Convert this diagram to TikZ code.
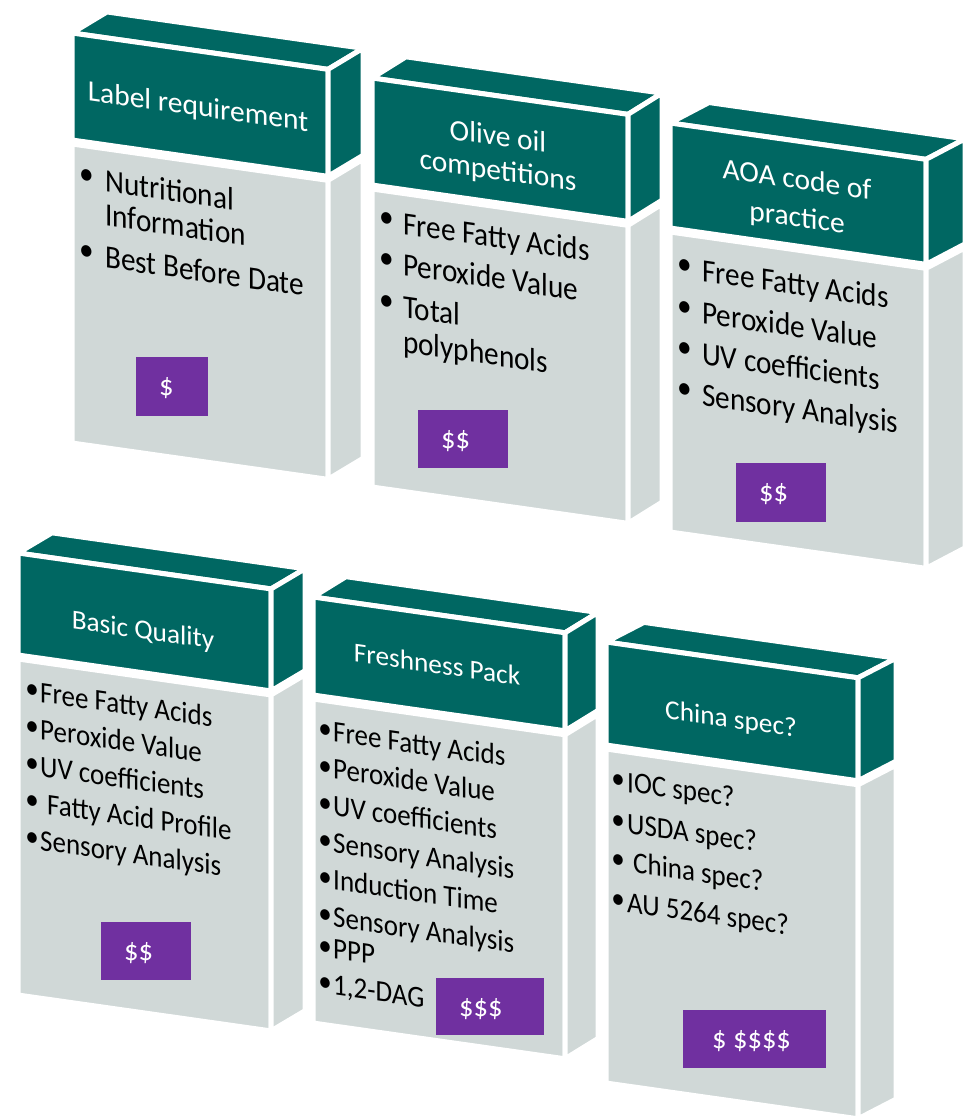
\documentclass[tikz,border=0pt]{standalone}
\usepackage{fontspec}
\setmainfont{Carlito}
\newfontfamily\listfont{Carlito}[FakeStretch=0.9]
\usetikzlibrary{calc}

\definecolor{hdteal}{RGB}{0,103,98}
\definecolor{bodygray}{RGB}{208,216,215}
\definecolor{pricepurple}{RGB}{112,48,160}

\tikzset{
  face/.style={draw=white, line width=5pt, line join=round},
  hdface/.style={face, fill=hdteal},
  bdface/.style={face, fill=bodygray},
  % upper and lower rows use slightly different type sizes
  rowtop/.style={hdf/.style={font=\fontsize{29.5}{35}\selectfont},
                 bdf/.style={font=\listfont\fontsize{32.5}{38}\selectfont},
                 bulraise/.initial=5},
  rowlow/.style={hdf/.style={font=\fontsize{27.3}{33}\selectfont},
                 bdf/.style={font=\listfont\fontsize{30}{36}\selectfont},
                 bulraise/.initial=2.5},
  hd/.style={hdf, text=white, anchor=base, inner sep=0pt, transform shape},
  itm/.style={bdf, text=black, anchor=base west, inner sep=0pt, transform shape},
  dot/.style={bdf, text=black, anchor=base, inner sep=0pt, transform shape},
  pricebox/.style={fill=pricepurple, draw=none, inner sep=0pt, anchor=north west},
  pricetxt/.style={text=white, anchor=base west, inner sep=0pt,
                   font=\fontsize{28.5}{34}\selectfont},
}

% faces of one box: #1 front width, #2 front height, #3 header height,
% #4/#5 depth offset of the top and side faces
\newcommand\oilbox[5]{%
  \path[hdface] (0,0) -- (#4,#5) -- ({#1+#4},#5) -- (#1,0) -- cycle;
  \path[hdface] (0,0) rectangle (#1,-#3);
  \path[bdface] (0,{-#3-4}) rectangle (#1,-#2);
  \path[hdface] (#1,0) -- ({#1+#4},#5) -- ({#1+#4},{#5-#3}) -- (#1,-#3) -- cycle;
  \path[bdface] (#1,{-#3-4}) -- ({#1+#4},{#5-#3-4}) -- ({#1+#4},{#5-#2}) -- (#1,-#2) -- cycle;
}

% bulleted line: #1 name, #2 bullet centre x, #3 text x, #4 baseline depth, #5 text
\newcommand\bulline[5]{%
  \pgfkeysgetvalue{/tikz/bulraise}{\br}%
  \node[dot] (#1d) at (#2,{-#4+\br}) {\textbullet};
  \node[itm] (#1) at (#3,-#4) {#5};
}

\begin{document}
\begin{tikzpicture}[x=1pt, y=1pt]
\useasboundingbox (0,0) rectangle (967,-1118);

% ---------- Label requirement ----------
\begin{scope}[shift={(72,-33)}, yslant=-0.142, rowtop]
  \oilbox{256}{410}{107}{35}{26}
  \node[hd] (h1) at (126,-65) {Label requirement};
  \bulline{b1a}{15}{33}{154}{Nutritional}
  \node[itm] (b1a2) at (33,-188) {Information};
  \bulline{b1b}{15}{33}{230}{Best Before Date}
\end{scope}

% ---------- Olive oil competitions ----------
\begin{scope}[shift={(372,-78)}, yslant=-0.142, rowtop]
  \oilbox{256}{409}{107}{34}{26}
  \node[hd] (h2a) at (126,-50) {Olive oil};
  \node[hd] (h2b) at (126,-84) {competitions};
  \bulline{b2a}{15}{31}{152}{Free Fatty Acids}
  \bulline{b2b}{15}{31}{193}{Peroxide Value}
  \bulline{b2c}{15}{31}{235}{Total}
  \node[itm] (b2c2) at (31,-270) {polyphenols};
\end{scope}

% ---------- AOA code of practice ----------
\begin{scope}[shift={(670,-123)}, yslant=-0.142, rowtop]
  \oilbox{256}{409}{105}{39}{26}
  \node[hd] (h3a) at (127,-48) {AOA code of};
  \node[hd] (h3b) at (127,-86) {practice};
  \bulline{b3a}{15}{32}{154}{Free Fatty Acids}
  \bulline{b3b}{15}{32}{196}{Peroxide Value}
  \bulline{b3c}{15}{32}{237}{UV coefficients}
  \bulline{b3d}{15}{32}{278}{Sensory Analysis}
\end{scope}

% ---------- Basic Quality ----------
\begin{scope}[shift={(18,-553)}, yslant=-0.142, rowlow]
  \oilbox{253}{442}{102}{34}{25}
  \node[hd] (h4) at (125,-68) {Basic Quality};
  \bulline{b4a}{14}{22}{146}{Free Fatty Acids}
  \bulline{b4b}{14}{22}{183}{Peroxide Value}
  \bulline{b4c}{14}{22}{220}{UV coefficients}
  \bulline{b4d}{14}{29}{257}{Fatty Acid Profile}
  \bulline{b4e}{14}{22}{294}{Sensory Analysis}
\end{scope}

% ---------- Freshness Pack ----------
\begin{scope}[shift={(313,-597)}, yslant=-0.142, rowlow]
  \oilbox{252}{426}{98}{33}{25}
  \node[hd] (h5) at (124,-59) {Freshness Pack};
  \bulline{b5a}{12}{20}{142}{Free Fatty Acids}
  \bulline{b5b}{12}{20}{179}{Peroxide Value}
  \bulline{b5c}{12}{20}{216}{UV coefficients}
  \bulline{b5d}{12}{20}{253}{Sensory Analysis}
  \bulline{b5e}{12}{20}{290}{Induction Time}
  \bulline{b5f}{12}{20}{327}{Sensory Analysis}
  \bulline{b5g}{12}{20}{359}{PPP}
  \bulline{b5h}{12}{20}{395}{1,2-DAG}
\end{scope}

% ---------- China spec? ----------
\begin{scope}[shift={(606,-642)}, yslant=-0.142, rowlow]
  \oilbox{252}{441}{103}{38}{25}
  \node[hd] (h6) at (125,-68) {China spec?};
  \bulline{b6a}{12}{21}{147}{IOC spec?}
  \bulline{b6b}{12}{21}{188}{USDA spec?}
  \bulline{b6c}{12}{27}{227}{China spec?}
  \bulline{b6d}{12}{21}{267}{AU 5264 spec?}
\end{scope}

% ---------- price tags ----------
\node[pricebox, minimum width=72pt, minimum height=59pt] (p1) at (136,-357) {};
\node[pricetxt] (p1t) at ($(p1.north west)+(23,-38)$) {\$};
\node[pricebox, minimum width=90pt, minimum height=58pt] (p2) at (418,-410) {};
\node[pricetxt] (p2t) at ($(p2.north west)+(23,-38)$) {\$\$};
\node[pricebox, minimum width=90pt, minimum height=59pt] (p3) at (736,-463) {};
\node[pricetxt] (p3t) at ($(p3.north west)+(23,-38)$) {\$\$};
\node[pricebox, minimum width=90pt, minimum height=58pt] (p4) at (101,-922) {};
\node[pricetxt] (p4t) at ($(p4.north west)+(23,-38)$) {\$\$};
\node[pricebox, minimum width=108pt, minimum height=57pt] (p5) at (436,-978) {};
\node[pricetxt] (p5t) at ($(p5.north west)+(23,-38)$) {\$\$\$};
\node[pricebox, minimum width=143pt, minimum height=58pt] (p6) at (683,-1010) {};
\node[pricetxt] (p6t) at ($(p6.north west)+(29,-38)$) {\$ \$\$\$\$};
\end{tikzpicture}
\end{document}
